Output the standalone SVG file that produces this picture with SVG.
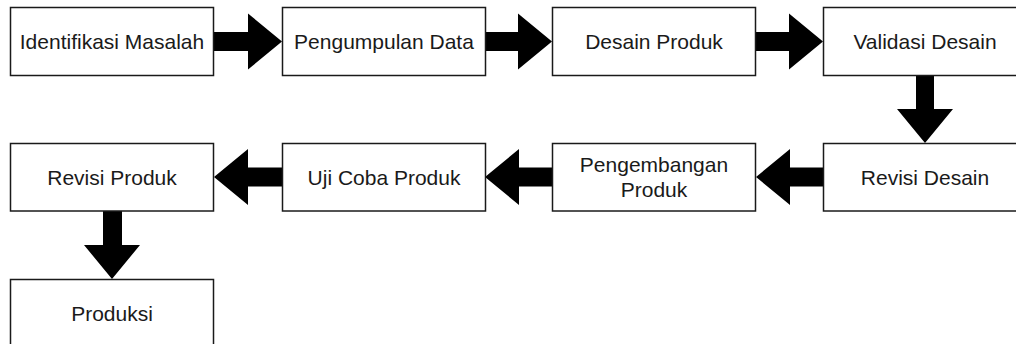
<svg xmlns="http://www.w3.org/2000/svg" width="1016" height="344" viewBox="0 0 1016 344">
<style>
.box{fill:#fff;stroke:#1a1a1a;stroke-width:1.5}
.lbl{font-family:"Liberation Sans",Arial,sans-serif;font-size:21px;fill:#1a1a1a;text-anchor:middle}
.arr{fill:#000;stroke:none}
</style>
<rect width="1016" height="344" fill="#fff"/>
<g id="connectors">
<polygon class="arr" points="214,32 248,32 248,13.5 282,41.5 248,69.5 248,51 214,51"/>
<polygon class="arr" points="485,32 518,32 518,13.5 552,41.5 518,69.5 518,51 485,51"/>
<polygon class="arr" points="756,32 789,32 789,13.5 823,41.5 789,69.5 789,51 756,51"/>
<polygon class="arr" points="916,76 934,76 934,109 953,109 925,143 897,109 916,109"/>
<polygon class="arr" points="823,167.5 790,167.5 790,149 756,177 790,205 790,186.5 823,186.5"/>
<polygon class="arr" points="552,167.5 519,167.5 519,149 485,177 519,205 519,186.5 552,186.5"/>
<polygon class="arr" points="282,167.5 248,167.5 248,149 214,177 248,205 248,186.5 282,186.5"/>
<polygon class="arr" points="103,211 122,211 122,245 140,245 112,279 84,245 103,245"/>
</g>
<g id="n1"><rect class="box" x="10.5" y="7.5" width="203" height="68"/><text class="lbl" x="112" y="49">Identifikasi Masalah</text></g>
<g id="n2"><rect class="box" x="282.5" y="7.5" width="203" height="68"/><text class="lbl" x="384" y="49">Pengumpulan Data</text></g>
<g id="n3"><rect class="box" x="552.5" y="7.5" width="203" height="68"/><text class="lbl" x="654" y="49">Desain Produk</text></g>
<g id="n4"><rect class="box" x="823.5" y="7.5" width="203" height="68"/><text class="lbl" x="925" y="49">Validasi Desain</text></g>
<g id="n5"><rect class="box" x="823.5" y="143.5" width="203" height="67.5"/><text class="lbl" x="925" y="184.5">Revisi Desain</text></g>
<g id="n6"><rect class="box" x="552.5" y="143.5" width="203" height="67.5"/><text class="lbl" x="654" y="172">Pengembangan</text><text class="lbl" x="654" y="197">Produk</text></g>
<g id="n7"><rect class="box" x="282.5" y="143.5" width="203" height="67.5"/><text class="lbl" x="384" y="184.5">Uji Coba Produk</text></g>
<g id="n8"><rect class="box" x="10.5" y="143.5" width="203" height="67.5"/><text class="lbl" x="112" y="184.5">Revisi Produk</text></g>
<g id="n9"><rect class="box" x="10.5" y="279.5" width="203" height="68"/><text class="lbl" x="112" y="321">Produksi</text></g>
</svg>
